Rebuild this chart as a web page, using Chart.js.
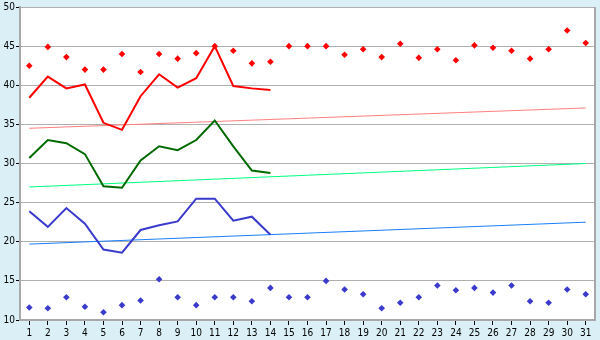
<!DOCTYPE html>
<html>
<head>
<meta charset="utf-8">
<script src="https://cdn.jsdelivr.net/npm/chart.js@4.4.0/dist/chart.umd.min.js"></script>
<style>
  body { margin: 0; background: #daeff6; }
  #wrap { width: 600px; height: 340px; }
</style>
</head>
<body>
<div id="wrap"><canvas id="myChart" width="600" height="340"></canvas></div>
<script>
// days of the month
const days = ["1", "2", "3", "4", "5", "6", "7", "8", "9", "10", "11", "12", "13", "14", "15", "16",
    "17", "18", "19", "20", "21", "22", "23", "24", "25", "26", "27", "28", "29", "30", "31"];

// upper points (red) and lower points (blue)
const highPoints = [42.5, 44.9, 43.6, 42.0, 42.0, 44.0, 41.7, 44.0, 43.4, 44.1, 45.0, 44.4, 42.8, 43.0, 45.0, 45.0,
    45.0, 43.9, 44.6, 43.6, 45.3, 43.5, 44.6, 43.2, 45.1, 44.8, 44.4, 43.4, 44.6, 47.0, 45.4];
const lowPoints = [11.6, 11.5, 12.9, 11.7, 11.0, 11.9, 12.5, 15.2, 12.9, 11.9, 12.9, 12.9, 12.4, 14.1, 12.9, 12.9,
    15.0, 13.9, 13.3, 11.5, 12.2, 12.9, 14.4, 13.8, 14.1, 13.5, 14.4, 12.4, 12.2, 13.9, 13.3];

// three lines, first 14 days only
const redLine = [38.4, 41.1, 39.6, 40.1, 35.2, 34.3, 38.6, 41.4, 39.7, 40.9, 45.0, 39.9, 39.6, 39.4];
const greenLine = [30.7, 33.0, 32.6, 31.2, 27.1, 26.9, 30.4, 32.2, 31.7, 33.0, 35.5, 32.2, 29.1, 28.8];
const blueLine = [23.9, 21.9, 24.3, 22.3, 19.0, 18.6, 21.5, 22.1, 22.6, 25.5, 25.5, 22.7, 23.2, 20.9];

// trend lines: value on day 1 and day 31
const redTrend = [34.5, 37.1];
const greenTrend = [27.0, 30.0];
const blueTrend = [19.7, 22.5];

const yTicks = [10, 15, 20, 25, 30, 35, 40, 45, 50];

function trend(ends) {
    let arr = days.map(() => null);
    arr[0] = ends[0];
    arr[days.length - 1] = ends[1];
    return arr;
}

function lineSet(data, color, width) {
    return {
        type: "line",
        data: data,
        borderColor: color,
        backgroundColor: color,
        borderWidth: width,
        pointRadius: 0,
        tension: 0,
        spanGaps: true,
        fill: false
    };
}

function pointSet(data, color) {
    return {
        type: "line",
        data: data,
        showLine: false,
        borderColor: color,
        backgroundColor: color,
        pointStyle: "rectRot",
        pointRadius: 3.3,
        pointBorderWidth: 0
    };
}

const plotBg = {
    id: "plotBg",
    beforeDraw(chart) {
        const { ctx, chartArea: a } = chart;
        ctx.save();
        ctx.fillStyle = "#ffffff";
        ctx.fillRect(a.left, a.top, a.right - a.left, a.bottom - a.top);
        ctx.restore();
    },
    afterDatasetsDraw(chart) {
        const { ctx, chartArea: a } = chart;
        ctx.save();
        ctx.strokeStyle = "#a8a8a8";
        ctx.lineWidth = 2;
        ctx.beginPath();
        ctx.moveTo(a.right, a.top);
        ctx.lineTo(a.right, a.bottom);
        ctx.stroke();
        ctx.restore();
    }
};

const font = { family: "'DejaVu Sans Condensed', 'Liberation Sans', sans-serif", size: 10 };

new Chart("myChart", {
    data: {
        labels: days,
        datasets: [
            pointSet(highPoints, "#ff0000"),
            pointSet(lowPoints, "#3a3acc"),
            lineSet(redLine, "#ff0000", 2),
            lineSet(greenLine, "#006a00", 2),
            lineSet(blueLine, "#3a3acc", 2),
            lineSet(trend(redTrend), "#ff8080", 1),
            lineSet(trend(greenTrend), "#00ff80", 1),
            lineSet(trend(blueTrend), "#1a7fff", 1)
        ]
    },
    options: {
        responsive: false,
        animation: false,
        layout: { padding: { top: 4, right: 5, left: 0, bottom: 0 } },
        plugins: { legend: { display: false }, tooltip: { enabled: false } },
        scales: {
            x: {
                offset: true,
                grid: { drawOnChartArea: false, tickLength: 5, tickColor: "#000", offset: false },
                border: { color: "#a8a8a8", width: 2 },
                ticks: { color: "#000", font: font, padding: 2, maxRotation: 0, autoSkip: false },
                afterFit(scale) { scale.height = 20; }
            },
            y: {
                min: 10,
                max: 50,
                afterBuildTicks(scale) { scale.ticks = yTicks.map(v => ({ value: v })); },
                grid: { color: "#b0b0b0", lineWidth: 1, tickLength: 4, tickColor: "#000" },
                border: { color: "#a8a8a8", width: 2 },
                ticks: { color: "#000", font: font, padding: 1 },
                afterFit(scale) { scale.width = 20; }
            }
        }
    },
    plugins: [plotBg]
});
</script>
</body>
</html>
